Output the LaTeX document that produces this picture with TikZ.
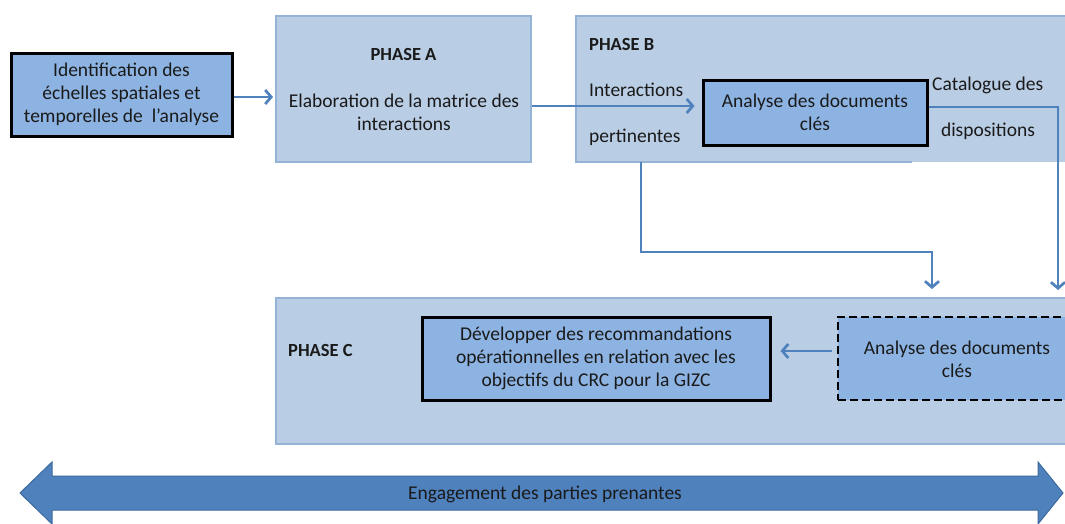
\documentclass[tikz,border=0pt]{standalone}
\usepackage{fontspec}
\setmainfont{Carlito}
\usetikzlibrary{arrows.meta,calc}
\definecolor{lightfill}{HTML}{B9CDE5}
\definecolor{lightborder}{HTML}{95B3D7}
\definecolor{midfill}{HTML}{8DB3E2}
\definecolor{conncol}{HTML}{4F81BD}
\definecolor{bigarrow}{HTML}{4F81BD}
\definecolor{bigborder}{HTML}{3D6A9E}
\definecolor{txt}{HTML}{1A1A1A}
\tikzset{
  phasebox/.style={fill=lightfill, draw=lightborder, line width=2pt, inner sep=0pt},
  keybox/.style={fill=midfill, draw=black, line width=3pt, inner sep=0pt, align=center, text=txt},
  dashbox/.style={fill=midfill, draw=black, line width=2.8pt, dash pattern=on 8pt off 4pt, inner sep=0pt, align=center, text=txt},
  lbl/.style={text=txt, inner sep=0pt, align=center},
  bold/.style={font=\fontsize{18.5}{23}\selectfont\bfseries},
  conn/.style={draw=conncol, line width=2.7pt, -{Straight Barb[length=6pt,width=14pt,line width=2.7pt]}},
}
\begin{document}
\begin{tikzpicture}[x=1pt,y=-1pt,font=\fontsize{19.5}{23}\selectfont]
\useasboundingbox (0,0) rectangle (1065,523);
\clip (0,0) rectangle (1065,523);
\fill[white] (0,0) rectangle (1065,523);

% Identification box
\node[keybox, minimum width=221pt, minimum height=83pt] (ident) at (121.5,94.5)
  {Identification des\\ échelles spatiales et\\ temporelles de\ \ l’analyse};

% Phase A
\node[phasebox, minimum width=255pt, minimum height=146pt] (phA) at (403.5,89) {};
\node[lbl, bold] (phAt) at (403.5,54) {PHASE A};
\node[lbl] (phAtext) at (404,112.5) {Elaboration de la matrice des\\ interactions};

% Phase B (extends beyond the right edge)
\fill[lightfill] (576,16) rectangle (1090,162);
\node[inner sep=0pt, minimum width=514pt, minimum height=146pt] (phB) at (833,89) {};
\draw[lightborder, line width=2pt] (912,162) -- (576,162) -- (576,16) -- (1090,16);
\node[lbl, anchor=west, bold] (phBt) at (589,44) {PHASE B};
\node[lbl, anchor=west] (inter) at (589,90) {Interactions};
\node[lbl, anchor=west] (pert) at (589,137) {pertinentes};
\node[keybox, minimum width=224pt, minimum height=65pt] (anaB) at (815,112.5)
  {Analyse des documents\\ clés};
\node[lbl, anchor=west] (cat) at (932,85) {Catalogue des};
\node[lbl] (disp) at (988,131) {dispositions};

% Phase C
\node[phasebox, minimum width=810pt, minimum height=146pt] (phC) at (681,371) {};
\node[lbl, anchor=west, bold] (phCt) at (288,350) {PHASE C};
\node[keybox, minimum width=348pt, minimum height=83pt] (dev) at (596,358.5)
  {Développer des recommandations\\ opérationnelles en relation avec les\\ objectifs du CRC pour la GIZC};
\node[dashbox, minimum width=250pt, minimum height=83pt] (anaC) at (963,358.5) {};
\node[lbl] (anaCtext) at (957,359) {Analyse des documents\\ clés};

% Connectors
\coordinate (a1) at (ident.east |- 0,97);
\draw[conn, shorten >=2pt] (a1) -- (phA.west |- a1);

\coordinate (a2) at (phA.east |- 0,106);
\draw[conn, shorten >=7pt] (a2) -- (anaB.west |- a2);

\coordinate (b1) at (anaB.east |- 0,107);
\coordinate (b2) at (1058,107);
\coordinate (b3) at (1058,290);
\draw[conn] (b1) -- (b2) -- (b3);

\coordinate (c1) at (641,162);
\coordinate (c2) at (641,252);
\coordinate (c3) at (932,252);
\coordinate (c4) at (932,289);
\draw[conn] (c1) -- (c2) -- (c3) -- (c4);

\coordinate (d1) at (anaC.west |- 0,351);
\draw[conn, shorten <=5pt, shorten >=9pt] (d1) -- (dev.east |- d1);

% Big double arrow
\draw[fill=bigarrow, draw=bigborder, line width=1pt, line join=miter]
  (20,493) -- (52,462) -- (52,476) -- (1038,476) -- (1038,462) -- (1063,493)
  -- (1038,524) -- (1038,510) -- (52,510) -- (52,524) -- cycle;
\node[lbl] (eng) at (545,494) {Engagement des parties prenantes};
\end{tikzpicture}
\end{document}
